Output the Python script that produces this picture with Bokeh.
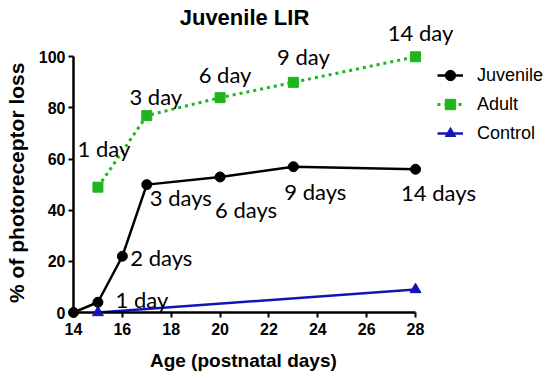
import math
from bokeh.plotting import figure
from bokeh.models import (ColumnDataSource, LabelSet, Label, Legend, LegendItem,
                          LinearAxis, FixedTicker, Range1d)
from bokeh.core.properties import value
from bokeh.embed import file_html
from bokeh.resources import INLINE

# ---------------- data ----------------
title_text = "Juvenile LIR"
x_label = "Age (postnatal days)"
y_label = "% of photoreceptor loss"

juv_age = [14, 15, 16, 17, 20, 23, 28]
juv_loss = [0, 4, 22, 50, 53, 57, 56]
juv_labels = ["", "1 day", "2 days", "3 days", "6 days", "9 days", "14 days"]

adult_age = [15, 17, 20, 23, 28]
adult_loss = [49, 77, 84, 90, 100]
adult_labels = ["1 day", "3 day", "6 day", "9 day", "14 day"]

ctrl_age = [15, 28]
ctrl_loss = [0, 9]

x_ticks = [14, 16, 18, 20, 22, 24, 26, 28]
y_ticks = [0, 20, 40, 60, 80, 100]

# ---------------- label placement (pixels) ----------------
juv_dx = [0, 44, 39, 34, 26, 22, 23]
juv_dy = [0, 3, -1, -13, -33, -25, -23]
adult_dx = [6, 9, 5, 10, 5]
adult_dy = [39, 19, 23, 26, 24]

# axis titles are centred under the drawn axis (not the whole frame):
# trailing no-break spaces shift them toward the axis centre
NBSP = "\u00a0"
x_label_pad = 26
y_label_pad = 9

BLACK = "#000000"
GREEN = "#1fb51f"
BLUE = "#1414b4"
AXIS_FONT = "Liberation Sans"
LABEL_FONT = "Lato"

p = figure(width=550, height=381, output_backend="svg", toolbar_location=None,
           title=None, x_axis_type=None, y_axis_type=None,
           x_range=Range1d(14, 33.525), y_range=Range1d(0, 122.0),
           min_border_left=73, min_border_right=0, min_border_top=0,
           min_border_bottom=69)
p.outline_line_color = None
p.background_fill_color = "white"
p.border_fill_color = "white"

# axes
xaxis = LinearAxis(ticker=FixedTicker(ticks=x_ticks), bounds=(14, 28),
                   axis_label=x_label + NBSP * x_label_pad)
yaxis = LinearAxis(ticker=FixedTicker(ticks=y_ticks), bounds=(0, 100),
                   axis_label=y_label + NBSP * y_label_pad)
for ax in (xaxis, yaxis):
    ax.axis_line_width = 2.5
    ax.axis_line_color = BLACK
    ax.major_tick_line_width = 2
    ax.major_tick_line_color = BLACK
    ax.major_tick_out = 5
    ax.major_tick_in = 0
    ax.minor_tick_line_color = None
    ax.major_label_text_font = AXIS_FONT
    ax.major_label_text_font_style = "bold"
    ax.major_label_text_font_size = "16px"
    ax.major_label_text_color = BLACK
    ax.axis_label_text_font = AXIS_FONT
    ax.axis_label_text_font_style = "bold"
    ax.axis_label_text_color = BLACK
xaxis.major_label_standoff = 5
yaxis.major_label_standoff = 3
xaxis.axis_label_text_font_size = "19px"
yaxis.axis_label_text_font_size = "21px"
xaxis.axis_label_standoff = 12
yaxis.axis_label_standoff = 8
p.add_layout(xaxis, "below")
p.add_layout(yaxis, "left")

# series
juv_src = ColumnDataSource(dict(x=juv_age, y=juv_loss, t=juv_labels, dx=juv_dx, dy=juv_dy))
adult_src = ColumnDataSource(dict(x=adult_age, y=adult_loss, t=adult_labels, dx=adult_dx, dy=adult_dy))
ctrl_src = ColumnDataSource(dict(x=ctrl_age, y=ctrl_loss))

cl = p.line("x", "y", source=ctrl_src, line_color=BLUE, line_width=2.5)
cm = p.scatter("x", "y", source=ctrl_src, marker="triangle", size=11,
               fill_color=BLUE, line_color=BLUE)
al = p.line("x", "y", source=adult_src, line_color=GREEN, line_width=3, line_dash="3 4")
am = p.scatter("x", "y", source=adult_src, marker="square", size=10,
               fill_color=GREEN, line_color=GREEN)
jl = p.line("x", "y", source=juv_src, line_color=BLACK, line_width=2.5)
jm = p.scatter("x", "y", source=juv_src, marker="circle", size=10,
               fill_color=BLACK, line_color=BLACK)
for r in (cm, am, jm):
    r.level = "overlay"

for src in (juv_src, adult_src):
    p.add_layout(LabelSet(x="x", y="y", text="t", source=src, x_offset="dx", y_offset="dy",
                          text_align="center", text_baseline="middle",
                          text_font=value(LABEL_FONT), text_font_size="22px",
                          text_color=BLACK))

# title drawn as text inside the plot area
p.add_layout(Label(x=21.0, y=115.2, text=title_text, text_align="center",
                   text_baseline="middle", text_font=AXIS_FONT,
                   text_font_style="bold", text_font_size="22px", text_color=BLACK))

legend = Legend(items=[LegendItem(label="Juvenile", renderers=[jl, jm]),
                       LegendItem(label="Adult", renderers=[al, am]),
                       LegendItem(label="Control", renderers=[cl, cm])],
                location=(364, 166), glyph_width=26, glyph_height=26,
                label_height=26, label_standoff=14, spacing=3, padding=0,
                margin=0, border_line_color=None, background_fill_alpha=0,
                label_text_font=AXIS_FONT, label_text_font_size="18px",
                label_text_color=BLACK)
p.add_layout(legend)

open("out.html", "w").write(file_html(p, INLINE))
